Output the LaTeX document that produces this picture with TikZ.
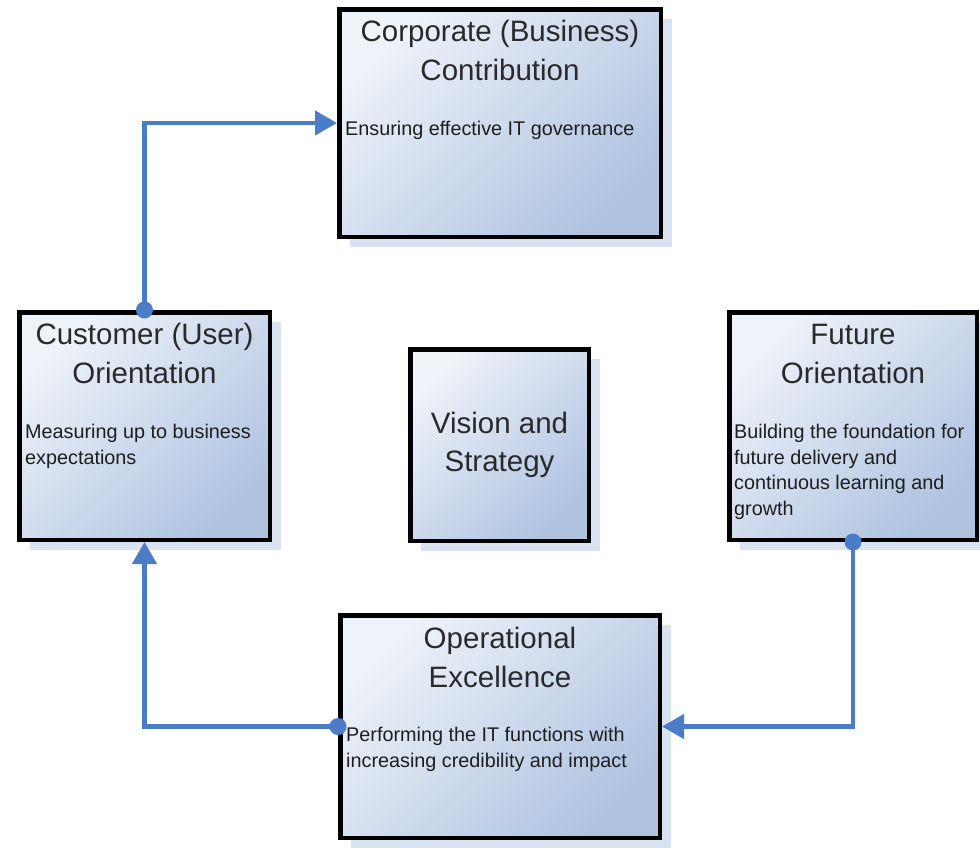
\documentclass[tikz,border=0pt]{standalone}
\usepackage{fontspec}
\setmainfont{Liberation Sans}
\usetikzlibrary{arrows.meta, shadows}
\definecolor{linkblue}{HTML}{4A7CC7}
\definecolor{boxlight}{HTML}{EEF2F9}
\definecolor{boxdark}{HTML}{AFC3E1}
\definecolor{shadowblue}{HTML}{D9E2F0}
\definecolor{titlegray}{HTML}{2A2A2A}
\definecolor{notegray}{HTML}{1E1E1E}
\tikzstyle{box} = [rectangle, draw=black, line width=4.5pt, top color=boxlight, bottom color=boxdark, shading angle=45, general shadow={fill=shadowblue, shadow xshift=11pt, shadow yshift=-10pt}]
\tikzstyle{heading} = [inner sep=0pt, align=center, text=titlegray, font=\fontsize{29.5}{38.5}\selectfont]
\tikzstyle{note} = [inner sep=0pt, align=left, text=notegray, font=\fontsize{19.8}{25.5}\selectfont, anchor=north west]
\tikzstyle{arrow} = [line width=4.5pt, draw=linkblue, -{Triangle[length=22pt, width=24pt]}]
\tikzstyle{dot} = [fill=linkblue]

\begin{document}
\begin{tikzpicture}[x=1pt, y=-1pt]
            \useasboundingbox (0,0) rectangle (980,849);

            \node (corp) [box, minimum width=321.5pt, minimum height=227.5pt] at (500,123) {};
            \node (cust) [box, minimum width=250.5pt, minimum height=227.5pt] at (144.5,426) {};
            \node (vision) [box, heading, inner sep=4pt, minimum width=178.5pt, minimum height=191.5pt] at (499.5,445) {Vision and\\Strategy};
            \node (fut) [box, minimum width=247.5pt, minimum height=227.5pt] at (853,426) {};
            \node (oper) [box, minimum width=319.5pt, minimum height=222.5pt] at (500,726.5) {};

            \node (corp_title) [heading, anchor=north] at ([yshift=-13pt]corp.north) {Corporate (Business)\\Contribution};
            \node (cust_title) [heading, anchor=north] at ([yshift=-13pt]cust.north) {Customer (User)\\Orientation};
            \node (fut_title) [heading, anchor=north] at ([yshift=-14pt]fut.north) {Future\\Orientation};
            \node (oper_title) [heading, anchor=north] at ([yshift=-14pt]oper.north) {Operational\\Excellence};

            \node (corp_note) [note] at ([xshift=8pt, yshift=-114pt]corp.north west) {Ensuring effective IT governance};
            \node (cust_note) [note] at ([xshift=8pt, yshift=-114pt]cust.north west) {Measuring up to business\\expectations};
            \node (fut_note) [note] at ([xshift=7pt, yshift=-114pt]fut.north west) {Building the foundation for\\future delivery and\\continuous learning and\\growth};
            \node (oper_note) [note] at ([xshift=8pt, yshift=-114pt]oper.north west) {Performing the IT functions with\\increasing credibility and impact};

            \draw [arrow] (cust.north) |- (corp.west);
            \draw [arrow] (fut.south) |- (oper.east);
            \draw [arrow] (oper.west) -| (cust.south);
            \fill [dot] (cust.north) circle[radius=8.5pt];
            \fill [dot] (fut.south) circle[radius=8.5pt];
            \fill [dot] (oper.west) circle[radius=8.5pt];
        \end{tikzpicture}
\end{document}
